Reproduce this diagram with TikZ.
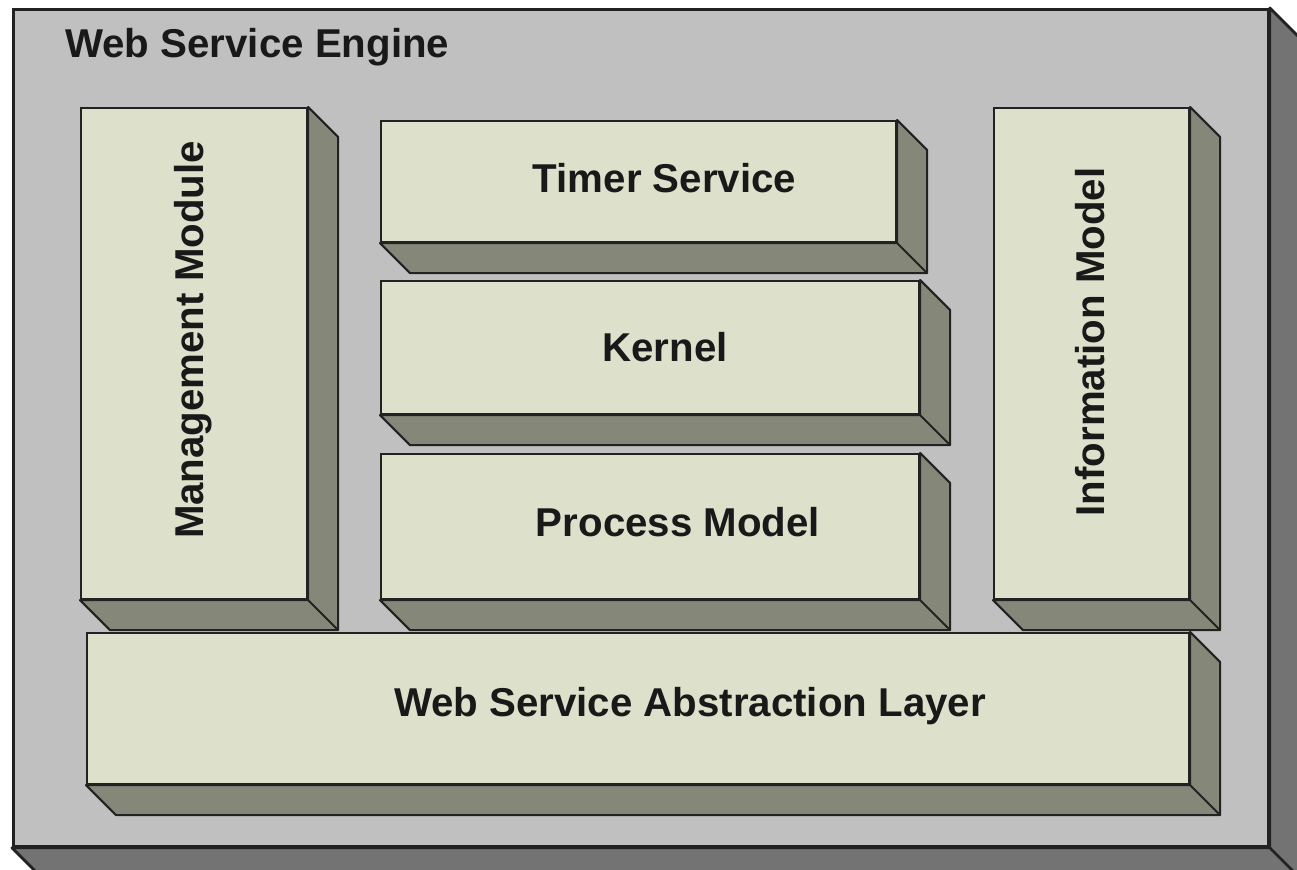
\documentclass[tikz,border=0pt]{standalone}
\usepackage{fontspec}
\setmainfont{Liberation Sans}
\usetikzlibrary{calc}
\definecolor{faceC}{HTML}{DDE0CB}
\definecolor{sideC}{HTML}{858878}
\definecolor{engineC}{HTML}{C0C0C0}
\definecolor{engsideC}{HTML}{737373}
\definecolor{edgeC}{HTML}{222222}
\tikzset{
  face/.style={draw=edgeC, fill=faceC, line width=1.2pt, inner sep=0pt, anchor=north west},
  side/.style={draw=edgeC, fill=sideC, line width=1.2pt, line join=round},
  lbl/.style={inner sep=0pt, text=black!90, font=\fontsize{22.9}{26}\selectfont\bfseries}
}
% side and bottom faces of a box node
\newcommand{\extrude}[3]{%
  \draw[side,#3] (#1.north east) -- ++(#2,-#2) -- ($(#1.south east)+(#2,-#2)$)
    -- ($(#1.south west)+(#2,-#2)$) -- (#1.south west) -- (#1.south east) -- cycle;
  \draw[side,#3] (#1.south east) -- ++(#2,-#2);
}
\begin{document}
\begin{tikzpicture}
\def\dep{.6};
\clip (0,0) rectangle (25.94,-17.4);
\fill[white] (0,0) rectangle (25.94,-17.4);

% engine
\node[face, fill=engineC, line width=1.6pt, minimum width=25.1cm, minimum height=16.74cm] (engine) at (0.24,-0.16) {};
\extrude{engine}{\dep}{fill=engsideC, line width=1.6pt}
\node[lbl, anchor=west] (engineT) at (1.3,-0.94) {Web Service Engine};

% modules
\node[face, minimum width=4.52cm, minimum height=9.82cm] (mgmt) at (1.6,-2.14) {};
\extrude{mgmt}{\dep}{}
\node[face, minimum width=10.3cm, minimum height=2.42cm] (timer) at (7.6,-2.4) {};
\extrude{timer}{\dep}{}
\node[face, minimum width=10.76cm, minimum height=2.66cm] (kernel) at (7.6,-5.6) {};
\extrude{kernel}{\dep}{}
\node[face, minimum width=10.76cm, minimum height=2.9cm] (process) at (7.6,-9.06) {};
\extrude{process}{\dep}{}
\node[face, minimum width=3.9cm, minimum height=9.82cm] (info) at (19.86,-2.14) {};
\extrude{info}{\dep}{}
\node[face, minimum width=22.04cm, minimum height=3.02cm] (wsal) at (1.72,-12.64) {};
\extrude{wsal}{\dep}{}

% labels
\node[lbl, rotate=90] (mgmtT) at (3.86,-6.8) {Management Module};
\node[lbl] (timerT) at (13.29,-3.56) {Timer Service};
\node[lbl] (kernelT) at (13.3,-6.94) {Kernel};
\node[lbl] (processT) at (13.56,-10.44) {Process Model};
\node[lbl, rotate=90] (infoT) at (21.8,-6.84) {Information Model};
\node[lbl] (wsalT) at (13.8,-14.12) {Web Service Abstraction Layer};
\end{tikzpicture}
\end{document}
